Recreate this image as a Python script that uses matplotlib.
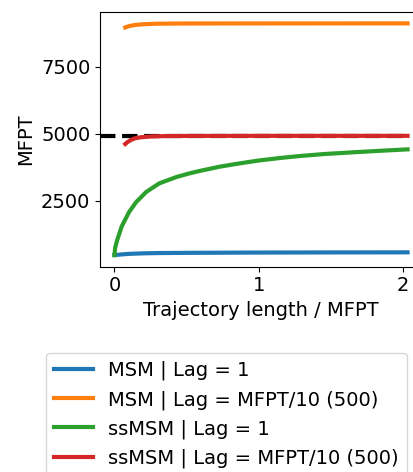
import numpy as np
import matplotlib.pyplot as plt

plt.rcParams['font.size'] = 14

# MFPT estimates vs trajectory length (in units of the true MFPT)
x_msm1 = [0.0, 0.05, 0.1, 0.2, 0.3, 0.5, 0.8, 1.0, 1.3, 1.6, 2.03]
y_msm1 = [474, 500, 520, 540, 550, 558, 565, 569, 572, 575, 577]

x_msm500 = [0.075, 0.1, 0.14, 0.2, 0.3, 0.5, 1.0, 1.5, 2.03]
y_msm500 = [8970, 9020, 9060, 9090, 9110, 9118, 9120, 9121, 9122]

x_ss1 = [0.0, 0.005, 0.02, 0.05, 0.1, 0.15, 0.22, 0.31, 0.43, 0.52, 0.59,
         0.73, 0.87, 1.0, 1.15, 1.28, 1.45, 1.65, 1.85, 2.03]
y_ss1 = [474, 750, 1050, 1540, 2070, 2450, 2830, 3150, 3390, 3525, 3615,
         3775, 3900, 4005, 4100, 4170, 4245, 4310, 4370, 4420]

x_ss500 = [0.075, 0.09, 0.11, 0.14, 0.18, 0.25, 0.35, 0.5, 1.0, 1.5, 2.03]
y_ss500 = [4620, 4690, 4760, 4830, 4870, 4900, 4915, 4922, 4925, 4925, 4925]

true_mfpt = 4925

labels = ['MSM | Lag = 1', 'MSM | Lag = MFPT/10 (500)',
          'ssMSM | Lag = 1', 'ssMSM | Lag = MFPT/10 (500)']

fig = plt.figure(figsize=(4.13, 4.72), dpi=100)
ax = fig.add_axes([100/413, 0.435, 322/413, 0.54])

# reference value underneath the estimates
ax.hlines(true_mfpt, -0.1, 2.03, colors='k', linestyles='--', lw=3, zorder=1)
ax.plot(x_msm1, y_msm1, color='C0', lw=3, label=labels[0], zorder=2)
ax.plot(x_msm500, y_msm500, color='C1', lw=3, label=labels[1], zorder=2)
ax.plot(x_ss1, y_ss1, color='C2', lw=3, label=labels[2], zorder=2)
ax.plot(x_ss500, y_ss500, color='C3', lw=3, label=labels[3], zorder=2)

ax.set_xlim(-0.1, 2.13)
ax.set_ylim(42, 9554)
ax.set_xticks([0, 1, 2])
ax.set_yticks([2500, 5000, 7500])
ax.set_xlabel('Trajectory length / MFPT')
ax.set_ylabel('MFPT')

handles, labs = ax.get_legend_handles_labels()
fig.legend(handles, labs, loc='upper left', bbox_to_anchor=(46/413, 0.252),
           borderaxespad=0)

fig.savefig('out.png', dpi=100)
